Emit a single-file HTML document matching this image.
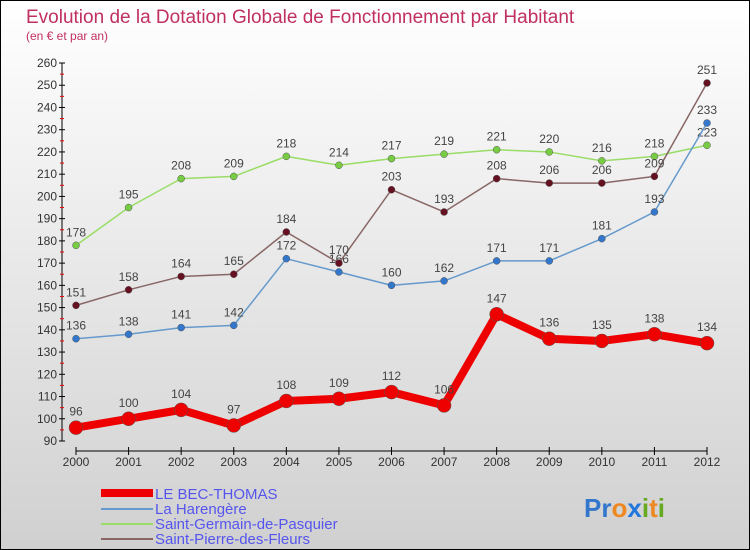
<!DOCTYPE html>
<html><head><meta charset="utf-8"><style>
body{margin:0;width:750px;height:550px;overflow:hidden;font-family:"Liberation Sans",sans-serif}
#wrap{position:relative;width:748px;height:548px;border:1px solid #000;background:linear-gradient(#ffffff,#d0d0d0)}
</style></head><body>
<div id="wrap">
<svg id="chart" width="748" height="548" style="position:absolute;left:0;top:0">
<text x="25" y="22" font-size="19" fill="#c03060">Evolution de la Dotation Globale de Fonctionnement par Habitant</text>
<text x="25" y="39" font-size="12" fill="#c03060">(en € et par an)</text>
<g id="axes"></g><g id="series"></g>
<g>
<rect x="100" y="488" width="52" height="8" fill="#e00"/>
<text x="154" y="498" font-size="15" fill="#5555ee">LE BEC-THOMAS</text>
<line x1="100" y1="508" x2="152" y2="508" stroke="#6699cc" stroke-width="2"/>
<text x="154" y="513" font-size="15" fill="#5555ee">La Harengère</text>
<line x1="100" y1="523" x2="152" y2="523" stroke="#99dd66" stroke-width="2"/>
<text x="154" y="528" font-size="15" fill="#5555ee">Saint-Germain-de-Pasquier</text>
<line x1="100" y1="538" x2="152" y2="538" stroke="#886666" stroke-width="2"/>
<text x="154" y="543" font-size="15" fill="#5555ee">Saint-Pierre-des-Fleurs</text>
</g>
<text x="583" y="516" font-size="26" font-weight="bold"><tspan fill="#3377cc">Pr</tspan><tspan fill="#ee8822">o</tspan><tspan fill="#2277dd">x</tspan><tspan fill="#66aa22">i</tspan><tspan fill="#ee8822">t</tspan><tspan fill="#66aa22">i</tspan></text>
</svg></div>
<script>
const years=[2000,2001,2002,2003,2004,2005,2006,2007,2008,2009,2010,2011,2012];
const yTicks=[90,100,110,120,130,140,150,160,170,180,190,200,210,220,230,240,250,260];
const becThomas=[96,100,104,97,108,109,112,106,147,136,135,138,134];
const harengere=[136,138,141,142,172,166,160,162,171,171,181,193,233];
const saintGermain=[178,195,208,209,218,214,217,219,221,220,216,218,223];
const saintPierre=[151,158,164,165,184,170,203,193,208,206,206,209,251];
const NS="http://www.w3.org/2000/svg";
const xS=i=>75+i*(706-75)/12;
const yS=v=>440-(v-90)*(440-62)/170;
function mk(p,t,a){const e=document.createElementNS(NS,t);for(const k in a)e.setAttribute(k,a[k]);p.appendChild(e);return e;}
const ax=document.getElementById('axes');
let e=mk(ax,'line',{x1:61,y1:yS(260),x2:61,y2:yS(90),stroke:'#000'});


yTicks.forEach(t=>{
 mk(ax,'line',{x1:58,x2:64,y1:yS(t),y2:yS(t),stroke:'#000'});
 if(t<260)mk(ax,'line',{x1:59,x2:63,y1:yS(t+5),y2:yS(t+5),stroke:'#e00'});
 const l=mk(ax,'text',{x:56,y:yS(t)+4,'font-size':12,fill:'#333','text-anchor':'end'});l.textContent=t;
 
 
});
e=mk(ax,'line',{x1:xS(0),y1:450,x2:xS(12),y2:450,stroke:'#000'});


years.forEach((y,i)=>{
 mk(ax,'line',{x1:xS(i),x2:xS(i),y1:446,y2:454,stroke:'#000'});
 const l=mk(ax,'text',{x:xS(i),y:465,'font-size':12,fill:'#333','text-anchor':'middle'});l.textContent=y;
 
 
});
const sg=document.getElementById('series');
function series(name,d,col,w,r,dot){
 const g=mk(sg,'g',{});
 
 
 mk(g,'polyline',{points:d.map((v,i)=>xS(i)+','+yS(v)).join(' '),fill:'none',stroke:col,'stroke-width':w,'stroke-linejoin':'round'});
 d.forEach((v,i)=>{
  const c=mk(g,'circle',{cx:xS(i),cy:yS(v),r:r,fill:dot,stroke:'#555','stroke-width':0.5});
  
  
  const t=mk(g,'text',{x:xS(i),y:yS(v)-(w>4?12:9),'font-size':12,fill:'#444','text-anchor':'middle'});t.textContent=v;
  
  
 });
}
series('saint-germain-line',saintGermain,'#99dd66',1.5,3.5,'#77cc44');
series('harengere-line',harengere,'#6699cc',1.5,3.5,'#3377cc');
series('saint-pierre-line',saintPierre,'#886666',1.5,3.5,'#661122');
series('bec-thomas-line',becThomas,'#ee0000',8,7,'#e00');
</script>
</body></html>
